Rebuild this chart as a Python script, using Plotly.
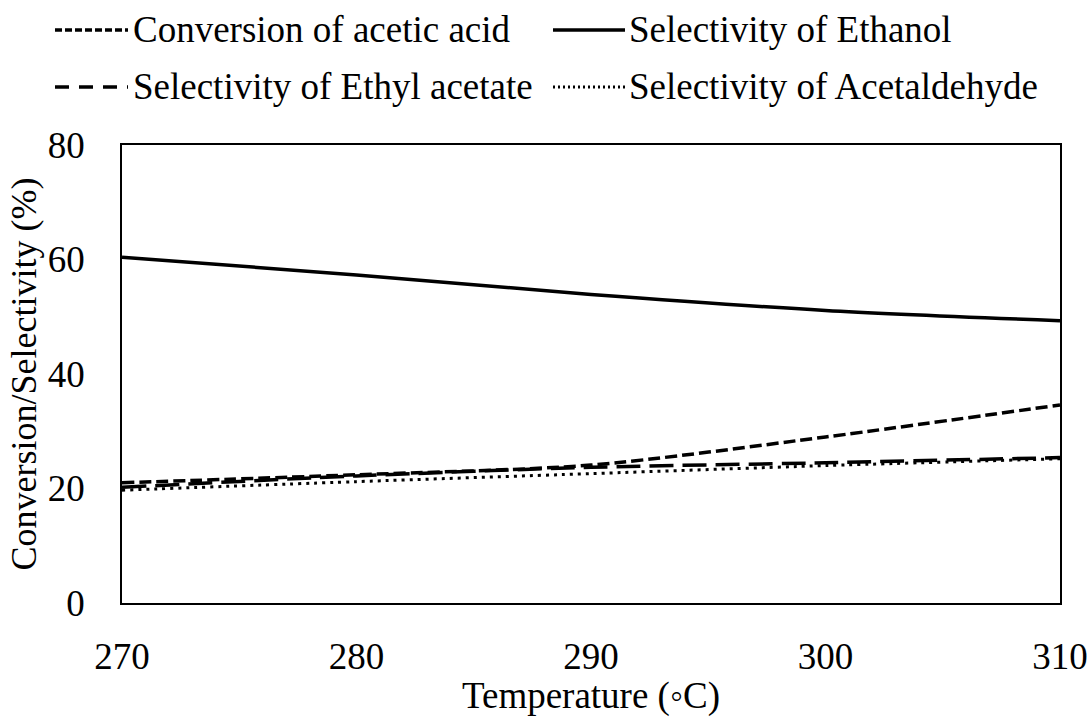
import plotly.graph_objects as go

temperature = [270, 280, 290, 300, 310]
conversion_acetic_acid = [21.0, 22.4, 24.1, 29.0, 34.6]
selectivity_ethanol = [60.4, 57.3, 53.9, 51.1, 49.3]
selectivity_ethyl_acetate = [20.2, 22.2, 23.7, 24.5, 25.4]
selectivity_acetaldehyde = [19.7, 21.2, 22.6, 24.0, 25.2]

series_names = ["Conversion of acetic acid", "Selectivity of Ethanol",
                "Selectivity of Ethyl acetate", "Selectivity of Acetaldehyde"]
series_values = [conversion_acetic_acid, selectivity_ethanol,
                 selectivity_ethyl_acetate, selectivity_acetaldehyde]
styles = [
    dict(dash="12px,5px", width=3.5),
    dict(dash="solid", width=3.5),
    dict(dash="24px,9px", width=3.5),
    dict(dash="3px,5px", width=3),
]

FONT = "Liberation Serif"
FS = 37
fig = go.Figure()
for name, vals, st in zip(series_names, series_values, styles):
    fig.add_trace(go.Scatter(
        x=temperature, y=vals, mode="lines", name=name,
        line=dict(color="black", width=st["width"], dash=st["dash"], shape="spline", smoothing=0.8),
        showlegend=False, hoverinfo="skip"))

# manual legend (2 x 2)
W, H = 938.0, 458.0
def px(x):
    return (x - 122) / W
def py(y):
    return (603 - y) / H

leg_pos = [(55, 128, 131, 29), (553, 625, 627, 29), (55, 128, 131, 86), (553, 625, 627, 86)]
legend_dash = ["7px,3px", "solid", "14px,10px", "2px,3px"]
for name, st, ld, (x0, x1, xt, yy) in zip(series_names, styles, legend_dash, leg_pos):
    fig.add_shape(type="line", xref="paper", yref="paper",
                  x0=px(x0), x1=px(x1), y0=py(yy + 1), y1=py(yy + 1),
                  line=dict(color="black", width=st["width"], dash=ld))
    fig.add_annotation(xref="paper", yref="paper", x=px(xt), y=py(yy),
                       text=name, showarrow=False, xanchor="left", yanchor="middle",
                       font=dict(family=FONT, size=FS, color="black"))

fig.update_layout(
    width=1091, height=717,
    margin=dict(l=122, r=31, t=145, b=114),
    plot_bgcolor="white", paper_bgcolor="white",
    font=dict(family=FONT, size=FS, color="black"),
    xaxis=dict(range=[270, 310], tickmode="array", tickvals=[270, 280, 290, 300, 310],
               showgrid=False, zeroline=False, showline=True, linecolor="black",
               linewidth=1.5, mirror=True, ticks="", ticklabelstandoff=20,
               automargin=False,
               title=dict(text="Temperature (◦C)", standoff=12,
                          font=dict(family=FONT, size=FS))),
    yaxis=dict(range=[0, 80], tickmode="array", tickvals=[0, 20, 40, 60, 80],
               showgrid=False, zeroline=False, showline=True, linecolor="black",
               linewidth=1.5, mirror=True, ticks="", ticklabelstandoff=28,
               automargin=False,
               title=dict(text="Conversion/Selectivity (%)", standoff=0,
                          font=dict(family=FONT, size=36))),
)

fig.write_html("out.html")
